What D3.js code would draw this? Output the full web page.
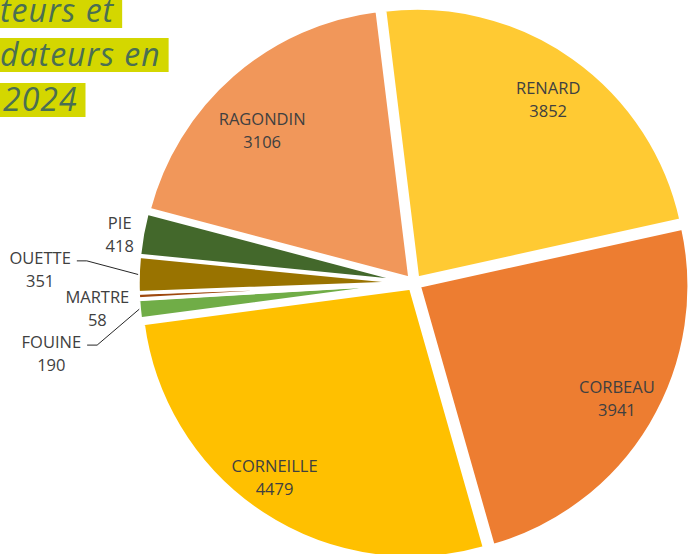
<!DOCTYPE html>
<html>
<head>
<meta charset="utf-8">
<script src="https://cdn.jsdelivr.net/npm/d3@7"></script>
<style>
    body { margin: 0; background: #fff; }
    svg { display: block; }
    .label { font-family: "Open Sans", sans-serif; font-size: 16.5px; fill: #404040; }
    .title { font-family: "Open Sans", sans-serif; font-size: 32px; font-style: italic; letter-spacing: 1px; fill: #4a6f52; }
</style>
</head>
<body>
<div class="pie-chart"></div>
<script>
'use strict'

// Data.
const categories = ['RENARD', 'CORBEAU', 'CORNEILLE', 'FOUINE', 'MARTRE', 'OUETTE', 'PIE', 'RAGONDIN'];
const counts = [3852, 3941, 4479, 190, 58, 351, 418, 3106];
const colours = ['#ffca33', '#ed7d31', '#ffc000', '#70ad47', '#9e480e', '#997300', '#43682b', '#f1975a'];
const titleLines = ['teurs et', 'dateurs en', '2024'];

// Dimensions and Constants
let width = 688,
    height = 554,
    cx = 414,
    cy = 283,
    radius = 270,
    explode = 6,
    labelRadius = 228,
    outsideRadius = 296;

// Hand placement of labels, as Excel moves them around (dx, dy).
const labelNudge = {
    RENARD: [-1, 7],
    CORBEAU: [2, -5],
    CORNEILLE: [-11, -2],
    RAGONDIN: [2, 23],
    PIE: [-3, 3],
    OUETTE: [-78, -5],
    MARTRE: [-21, 11],
    FOUINE: [-68, 42]
};
const withLeader = ['OUETTE', 'FOUINE'];

let data = categories.map((c, i) => ({name: c, count: counts[i], colour: colours[i]}));
let total = d3.sum(counts);

let svg = d3.select('.pie-chart')
    .append('svg')
    .attr('width', width)
    .attr('height', height);

let pie = d3.pie()
    .sort(null)
    .value(d => d.count)
    .startAngle(-7 * Math.PI / 180)
    .endAngle(353 * Math.PI / 180);

let arc = d3.arc().innerRadius(0).outerRadius(radius);

let arcs = pie(data);
let mid = d => (d.startAngle + d.endAngle) / 2;
let polar = (a, r) => [Math.sin(a) * r, -Math.cos(a) * r];

let g = svg.append('g')
    .attr('transform', `translate(${cx}, ${cy})`);

// Slices, each pulled out along its bisector.
g.append('g')
    .attr('class', 'slices')
    .selectAll('path')
    .data(arcs)
    .join('path')
    .attr('transform', d => {
        let [ox, oy] = polar(mid(d), explode);
        return `translate(${ox}, ${oy})`;
    })
    .attr('d', arc)
    .style('fill', d => d.data.colour)
    .style('stroke', '#fff')
    .style('stroke-width', 3.5)
    .style('stroke-linejoin', 'round');

// Labels.
let labels = g.append('g').attr('class', 'labels');

arcs.forEach(d => {
    let small = d.data.count / total < 0.05;
    let [x, y] = small ? polar(mid(d), outsideRadius) : polar(mid(d), labelRadius + explode);
    let n = labelNudge[d.data.name] || [0, 0];
    x += n[0];
    y += n[1];

    let t = labels.append('text')
        .attr('class', 'label')
        .style('text-anchor', 'middle');
    t.append('tspan').attr('x', x).attr('y', y - 5).text(d.data.name);
    t.append('tspan').attr('x', x).attr('y', y + 18).text(d.data.count);

    if (withLeader.includes(d.data.name)) {
        let w = t.select('tspan').node().getComputedTextLength();
        let sx = x + w / 2 + 6, sy = y - 8;
        let [ex, ey] = polar(mid(d), radius + explode);
        labels.append('polyline')
            .attr('points', [[sx, sy], [sx + 10, sy], [ex, ey]].join(' '))
            .style('fill', 'none')
            .style('stroke', '#262626')
            .style('stroke-width', 1);
    }
});

// Title (cut by the left edge in the original).
let title = svg.append('g').attr('class', 'title-block');
let baselines = [22, 66, 111];
let boxTop = [-6, 38, 83];

titleLines.forEach((line, i) => {
    let x0 = i === 2 ? 3 : 0;
    let r = title.append('rect')
        .attr('x', 0)
        .attr('y', boxTop[i])
        .attr('height', 34)
        .style('fill', '#d4d700');
    let t = title.append('text')
        .attr('class', 'title')
        .attr('x', x0)
        .attr('y', baselines[i])
        .text(line);
    let w = t.node().getComputedTextLength();
    r.attr('width', x0 + w + 8);
});
</script>
</body>
</html>
